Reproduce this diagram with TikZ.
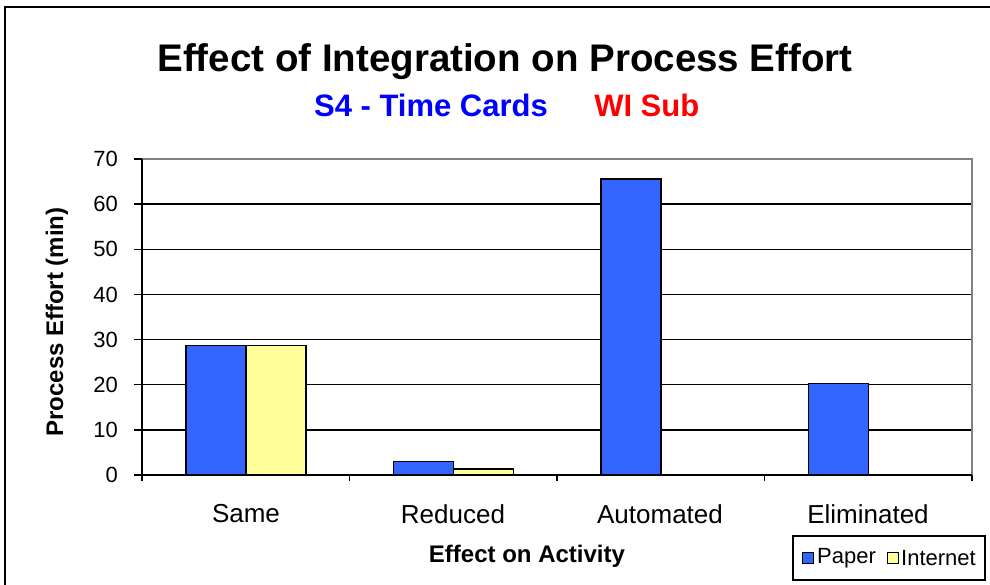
\documentclass[tikz,border=0pt]{standalone}
\usepackage{fontspec}
\setmainfont{Liberation Sans}
\usetikzlibrary{positioning}
\definecolor{paperblue}{RGB}{51,102,255}
\definecolor{netyellow}{RGB}{255,255,153}

\begin{document}
\begin{tikzpicture}[x=1pt,y=-1pt,
  bar/.style={draw=black,line width=1.4pt},
  gridline/.style={line width=1.5pt},
  ticklab/.style={anchor=east,inner sep=0pt,font=\fontsize{22}{24}\selectfont},
  catlab/.style={inner sep=0pt,font=\fontsize{26}{30}\selectfont},
  axistitle/.style={inner sep=0pt,font=\fontsize{24}{28}\selectfont\bfseries},
  legtext/.style={anchor=west,inner sep=0pt,font=\fontsize{22}{24}\selectfont}]
  \useasboundingbox (0,0) rectangle (990,584);
  \clip (0,0) rectangle (990,584);
  % outer frame
  \draw[line width=1.6pt] (5,7) rectangle (1000,600);

  % titles
  \node[inner sep=0pt,font=\fontsize{38.5}{42}\selectfont\bfseries] (title) at (505,62)
    {Effect of Integration on Process Effort};
  \node[inner sep=0pt,text=blue,font=\fontsize{31}{36}\selectfont\bfseries] (sub) at (431,105)
    {S4 - Time Cards};
  \node[inner sep=0pt,text=red,font=\fontsize{31}{36}\selectfont\bfseries,right=46pt of sub] (subb)
    {WI Sub};

  % plot area, values in min
  \begin{scope}[shift={(142,475)},x=1pt,y=4.514pt]
    \foreach \v in {10,20,...,60}
      \draw[gridline] (-8,\v) -- (830,\v);
    \draw[gray,line width=1.4pt] (0,70) -- (830,70) -- (830,0);
    \draw[gridline] (-8,70) -- (0,70);
    \foreach \v in {0,10,...,70}
      \node[ticklab] (tick\v) at (-24,\v) {\v};
    % bars
    \draw[bar,fill=paperblue] (44,0) rectangle (104,28.7);
    \draw[bar,fill=netyellow] (104,0) rectangle (164,28.7);
    \draw[bar,fill=paperblue] (251.5,0) rectangle (311.5,3);
    \draw[bar,fill=netyellow] (311.5,0) rectangle (371.5,1.3);
    \draw[bar,fill=paperblue] (459,0) rectangle (519,65.6);
    \draw[bar,fill=paperblue] (666.5,0) rectangle (726.5,20.3);
    % axes
    \draw[gridline] (0,70) -- (0,-0.8);
    \draw[gridline] (-8,0) -- (830,0);
    \foreach \c in {0,1,2,3,4}
      \draw[gridline] (207.5*\c,0) -- (207.5*\c,-1.4);
  \end{scope}

  % category labels
  \node[catlab] (same) at (246,514) {Same};
  \node[catlab] (reduced) at (453,514) {Reduced};
  \node[catlab] (automated) at (660,514) {Automated};
  \node[catlab] (eliminated) at (868,514) {Eliminated};

  % axis titles
  \node[axistitle] (xtitle) at (527,556) {Effect on Activity};
  \node[axistitle,rotate=90] (ytitle) at (57,322) {Process Effort (min)};

  % legend
  \node[draw,line width=1.4pt,minimum width=192pt,minimum height=44pt,inner sep=0pt] (legend) at (889,558) {};
  \draw[line width=1pt,fill=paperblue] (802,552) rectangle (813,563);
  \node[legtext] (lpaper) at (817,558) {Paper};
  \draw[line width=1pt,fill=netyellow] (887,552) rectangle (898,563);
  \node[legtext] (lnet) at (901,558) {Internet};
\end{tikzpicture}
\end{document}
